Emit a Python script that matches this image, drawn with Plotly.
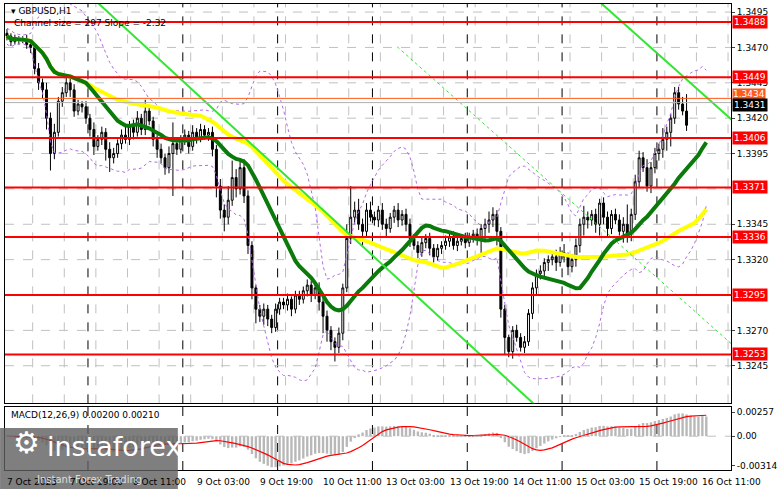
import plotly.graph_objects as go
import pandas as pd
import numpy as np

closes = [1.3478,1.3474,1.3476,1.3475,1.3476,1.3472,1.3470,
 1.3455,1.3445,1.3440,
 1.3420,1.3395,1.3410,1.3432,1.3438,
 1.3445,1.3440,1.3425,1.3430,1.3428,
 1.3420,1.3412,1.3400,1.3405,1.3410,
 1.3398,1.3392,1.3395,1.3402,1.3408,
 1.3405,1.3415,1.3410,1.3420,1.3412,
 1.3425,1.3418,1.3405,1.3398,1.3392,
 1.3385,1.3395,1.3402,1.3398,1.3405,
 1.3408,1.3400,1.3410,1.3406,1.3412,
 1.3408,1.3410,1.3398,1.3372,1.3355,
 1.3350,1.3362,1.3378,1.3370,1.3385,
 1.3365,1.3330,1.3300,1.3285,1.3280,
 1.3285,1.3278,1.3272,1.3285,1.3290,
 1.3288,1.3292,1.3285,1.3295,1.3292,
 1.3298,1.3302,1.3295,1.3300,1.3290,
 1.3280,1.3270,1.3262,1.3258,1.3268,
 1.3300,1.3335,1.3350,1.3355,1.3345,
 1.3340,1.3355,1.3350,1.3348,1.3355,
 1.3345,1.3342,1.3350,1.3355,1.3348,
 1.3352,1.3345,1.3335,1.3330,1.3325,
 1.3332,1.3335,1.3328,1.3322,1.3328,
 1.3330,1.3333,1.3336,1.3330,1.3333,
 1.3335,1.3332,1.3336,1.3338,1.3335,
 1.3342,1.3345,1.3348,1.3352,1.3340,
 1.3285,1.3265,1.3255,1.3270,1.3265,
 1.3258,1.3262,1.3282,1.3300,1.3310,
 1.3312,1.3318,1.3320,1.3322,1.3318,
 1.3325,1.3322,1.3315,1.3320,1.3330,
 1.3345,1.3350,1.3348,1.3352,1.3345,
 1.3360,1.3350,1.3342,1.3352,1.3348,
 1.3340,1.3345,1.3338,1.3352,1.3375,
 1.3392,1.3385,1.3372,1.3385,1.3395,
 1.3398,1.3405,1.3410,1.3420,1.3438,
 1.3430,1.3425,1.3415,1.3410,1.3418,
 1.3425,1.3440,1.3431]

up_wick = [3,2,3,2,2,3,2,
 3,4,3,
 5,4,6,3,4,
 5,3,4,3,2,
 4,3,5,3,4,
 3,5,4,3,4,
 6,3,4,5,3,
 8,4,3,3,4,
 3,5,15,4,3,
 4,3,5,3,4,
 3,3,4,3,5,
 4,10,12,6,5,
 6,4,3,2,3,
 4,3,3,4,3,
 3,4,2,3,3,
 3,4,3,3,4,
 3,4,3,3,4,
 3,10,22,6,8,
 4,5,6,4,3,
 5,4,3,3,5,
 3,4,4,3,3,
 4,3,4,3,3,
 3,4,3,4,3,
 3,4,3,3,4,
 3,4,6,5,3,
 3,3,2,3,4,
 3,4,3,4,3,
 4,3,3,4,5,
 4,6,3,4,5,
 4,8,4,3,4,
 3,4,4,3,4,
 4,5,14,4,5,
 5,4,6,4,4,
 4,8,4,3,4,
 4,5,12]

dn_wick = [3,3,2,3,2,3,4,
 4,5,6,
 8,12,4,3,4,
 3,5,4,3,4,
 4,5,6,3,4,
 8,10,4,3,4,
 3,4,5,3,4,
 4,3,5,6,4,
 5,4,30,4,3,
 4,5,3,4,3,
 3,4,5,8,6,
 10,5,4,6,4,
 5,6,8,10,4,
 6,5,4,3,4,
 3,4,5,3,4,
 3,4,5,3,6,
 12,8,6,10,4,
 5,3,4,5,4,
 10,4,3,4,5,
 4,6,3,4,5,
 4,5,6,3,4,
 3,4,5,4,3,
 4,3,4,3,4,
 3,4,3,4,5,
 12,8,6,5,10,
 6,12,4,5,3,
 3,4,3,4,5,
 4,5,6,4,6,
 3,4,6,4,5,
 5,8,6,4,6,
 8,5,6,4,3,
 3,8,6,5,4,
 4,3,4,5,4,
 5,6,8,10,4,
 4,3,4]

levels = [1.3488, 1.3449, 1.3406, 1.3371, 1.3336, 1.3295, 1.3253]
price_ticks = [1.3495, 1.3470, 1.3445, 1.3420, 1.3395, 1.3345, 1.3320, 1.3270, 1.3245]
grid_prices = [1.3495, 1.3470, 1.3445, 1.3420, 1.3395, 1.3370, 1.3345, 1.3320, 1.3295, 1.3270, 1.3245]
time_labels = ["7 Oct 2025", "7 Oct 19:00", "8 Oct 11:00", "9 Oct 03:00", "9 Oct 19:00",
               "10 Oct 11:00", "13 Oct 03:00", "13 Oct 19:00", "14 Oct 11:00",
               "15 Oct 03:00", "15 Oct 19:00", "16 Oct 11:00"]
time_label_bars = [0, 16, 32, 48, 64, 80, 96, 112, 128, 144, 160, 176]
day_sep_bars = [20.5, 44.5, 68.5, 92.5, 116.5, 140.5, 164.5]
channel_lines = [((22.5, 1.35028), (133.75, 1.32170), "solid"),
                 ((149.75, 1.35028), (183.75, 1.34181), "solid"),
                 ((98.75, 1.34705), (183.75, 1.32595), "dot")]

n = len(closes)
x = list(range(n))
opens = [1.3480] + closes[:-1]
highs = [max(o, c) + u / 10000 for o, c, u in zip(opens, closes, up_wick)]
lows = [min(o, c) - d / 10000 for o, c, d in zip(opens, closes, dn_wick)]

s = pd.Series(closes)
ma_fast = s.rolling(21, min_periods=1).mean()
ma_slow = s.rolling(50, min_periods=1).mean()
bb_mid = s.rolling(20, min_periods=1).mean()
bb_std = s.rolling(20, min_periods=2).std().bfill()
bb_up = bb_mid + 2 * bb_std
bb_dn = bb_mid - 2 * bb_std
macd = s.ewm(span=12, adjust=False).mean() - s.ewm(span=26, adjust=False).mean()
signal = macd.rolling(9, min_periods=1).mean()

fig = go.Figure()
fig.add_trace(go.Scatter(x=x, y=bb_up, mode="lines", line=dict(color="#b469e8", width=1, dash="dot")))
fig.add_trace(go.Scatter(x=x, y=bb_dn, mode="lines", line=dict(color="#b469e8", width=1, dash="dot")))
fig.add_trace(go.Scatter(x=x, y=ma_slow, mode="lines", line=dict(color="#ffff00", width=4)))
fig.add_trace(go.Scatter(x=x, y=ma_fast, mode="lines", line=dict(color="#0a7a0a", width=4)))
fig.add_trace(go.Candlestick(x=x, open=opens, high=highs, low=lows, close=closes,
    increasing=dict(line=dict(color="black", width=1), fillcolor="white"),
    decreasing=dict(line=dict(color="black", width=1), fillcolor="black"),
    whiskerwidth=0))
fig.add_trace(go.Bar(x=x, y=macd, marker=dict(color="#b8b8b8", line=dict(width=0)), width=0.6,
                     xaxis="x2", yaxis="y2"))
fig.add_trace(go.Scatter(x=x, y=signal, mode="lines", line=dict(color="red", width=1.2),
                         xaxis="x2", yaxis="y2"))

shapes = []
for gp in grid_prices:
    shapes.append(dict(type="line", xref="x", yref="y", x0=-0.5, x1=183.25, y0=gp, y1=gp,
                       line=dict(color="#c0c0c0", width=1, dash="dash"), layer="below"))
for b in range(7, 184, 8):
    shapes.append(dict(type="line", xref="x", yref="paper", x0=b - 0.5, x1=b - 0.5, y0=0.143, y1=1,
                       line=dict(color="#c0c0c0", width=1, dash="dash"), layer="below"))
for d in day_sep_bars:
    for yr in [(0.143, 1), (0, 0.135)]:
        shapes.append(dict(type="line", xref="x", yref="paper", x0=d, x1=d, y0=yr[0], y1=yr[1],
                           line=dict(color="black", width=1, dash="dash"), layer="below"))
for (a, b, ds) in channel_lines:
    shapes.append(dict(type="line", xref="x", yref="y", x0=a[0], y0=a[1], x1=b[0], y1=b[1],
                       line=dict(color="#33e633", width=2 if ds == "solid" else 1, dash=ds)))
for lv in levels:
    shapes.append(dict(type="line", xref="x", yref="y", x0=-0.5, x1=183.25, y0=lv, y1=lv,
                       line=dict(color="#ff0000", width=2)))
shapes.append(dict(type="line", xref="x", yref="y", x0=-0.5, x1=183.25, y0=1.3434, y1=1.3434,
                   line=dict(color="#ff5a1a", width=1)))
shapes.append(dict(type="line", xref="x", yref="y", x0=-0.5, x1=183.25, y0=1.3431, y1=1.3431,
                   line=dict(color="#b0b0b0", width=1)))
shapes.append(dict(type="line", xref="x2", yref="y2", x0=-0.5, x1=183.25, y0=0, y1=0,
                   line=dict(color="#c0c0c0", width=1, dash="dash")))
# logo box
shapes.append(dict(type="rect", xref="paper", yref="paper", x0=-5/735, x1=175/735,
                   y0=(470-489)/467, y1=(470-428)/467, fillcolor="rgba(95,95,95,0.8)", line=dict(width=0)))

F = "DejaVu Sans"
ann = []
for lv in levels:
    ann.append(dict(xref="paper", yref="y", x=1, y=lv, xanchor="left", xshift=1, showarrow=False,
                    text=f"{lv:.4f}", bgcolor="#ff0000", font=dict(color="white", size=9, family=F),
                    borderpad=1))
ann.append(dict(xref="paper", yref="y", x=1, y=1.3437, xanchor="left", xshift=1, showarrow=False,
                text="1.3434", bgcolor="#ff5a1a", font=dict(color="white", size=9, family=F), borderpad=0))
ann.append(dict(xref="paper", yref="y", x=1, y=1.3429, xanchor="left", xshift=1, showarrow=False,
                text="1.3431", bgcolor="black", font=dict(color="white", size=9, family=F), borderpad=1))
for b, t in zip(time_label_bars, time_labels):
    ann.append(dict(xref="x", yref="paper", x=b - 0.5, y=-0.01, xanchor="left", yanchor="top",
                    showarrow=False, text=t, font=dict(size=9, color="black", family=F)))
ann.append(dict(xref="paper", yref="paper", x=0.005, y=1.0, xanchor="left", yanchor="top", showarrow=False,
                text="▾ GBPUSD,H1", font=dict(size=9, color="black", family=F)))
ann.append(dict(xref="paper", yref="paper", x=0.01, y=0.975, xanchor="left", yanchor="top", showarrow=False,
                text="Channel size = 297 Slope = -2.32", font=dict(size=9, color="black", family=F)))
ann.append(dict(xref="paper", yref="paper", x=0.005, y=0.133, xanchor="left", yanchor="top", showarrow=False,
                text="MACD(12,26,9) 0.00200 0.00210", font=dict(size=9, color="black", family=F)))
ann.append(dict(xref="paper", yref="paper", x=6/735, y=(470-462)/467, xanchor="left", yanchor="bottom",
                showarrow=False, text="⚙", font=dict(size=30, color="white", family=F)))
ann.append(dict(xref="paper", yref="paper", x=40/735, y=(470-464)/467, xanchor="left", yanchor="bottom",
                showarrow=False, text="instaforex", font=dict(size=27, color="white", family=F)))
ann.append(dict(xref="paper", yref="paper", x=30/735, y=(470-487)/467, xanchor="left", yanchor="bottom",
                showarrow=False, text="Instant Forex Trading", font=dict(size=10, color="#dddddd", family=F)))

axis_common = dict(showline=True, linecolor="black", mirror=True, showgrid=False, zeroline=False)
fig.update_layout(
    width=781, height=489, margin=dict(l=5, r=41, t=3, b=19),
    paper_bgcolor="white", plot_bgcolor="white", showlegend=False,
    xaxis=dict(domain=[0, 1], range=[-0.5, 183.25], anchor="y", showticklabels=False,
               rangeslider=dict(visible=False), ticks="", **axis_common),
    yaxis=dict(domain=[0.143, 1], range=[1.32184, 1.35007], side="right", tickvals=price_ticks,
               tickformat=".4f", tickfont=dict(size=9, family=F, color="black"),
               ticks="outside", ticklen=3, **axis_common),
    xaxis2=dict(domain=[0, 1], range=[-0.5, 183.25], anchor="y2", showticklabels=False, ticks="",
                **axis_common),
    yaxis2=dict(domain=[0, 0.135], range=[-0.0036, 0.0031], side="right",
                tickvals=[0.00257, 0, -0.00314], ticktext=["0.00257", "0.00", "-0.00314"],
                tickfont=dict(size=9, family=F, color="black"), ticks="outside", ticklen=3,
                **axis_common),
    shapes=shapes, annotations=ann, bargap=0.4,
)
fig.write_html("out.html", config={"displayModeBar": False},
               post_script="document.body.style.margin='0';document.body.style.overflow='hidden';")
